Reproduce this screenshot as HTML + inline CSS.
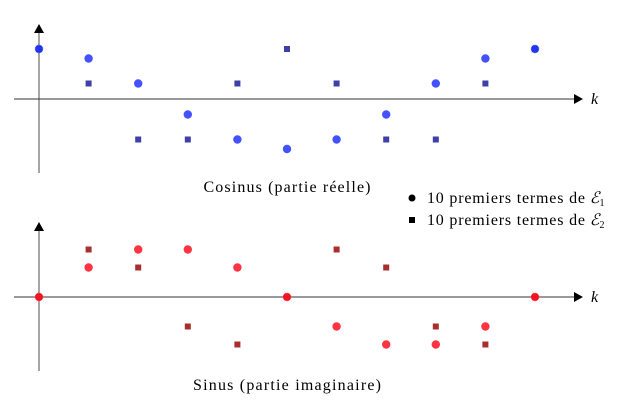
<!DOCTYPE html>
<html><head><meta charset="utf-8"><style>
html,body{margin:0;padding:0;background:#fff;}
svg{display:block;font-family:"Liberation Serif",serif;}
</style></head><body>
<svg id="c" width="634" height="402" viewBox="0 0 634 402">
<g id="axes"></g><g id="marks"></g>
<text x="287" y="192" text-anchor="middle" font-size="16" textLength="167">Cosinus (partie réelle)</text>
<text x="287" y="390" text-anchor="middle" font-size="16" textLength="188">Sinus (partie imaginaire)</text>
<g>
<circle cx="412" cy="198" r="3.5" fill="#000"/>
<text x="427" y="203" font-size="16"><tspan textLength="158">10 premiers termes de</tspan> <tspan font-style="italic">ℰ</tspan><tspan font-size="10" dy="3">1</tspan></text>
<rect x="409" y="217" width="6" height="6" fill="#000"/>
<text x="427" y="225" font-size="16"><tspan textLength="158">10 premiers termes de</tspan> <tspan font-style="italic">ℰ</tspan><tspan font-size="10" dy="3">2</tspan></text>
</g>
</svg>
<script>
const kValues=[0,1,2,3,4,5,6,7,8,9,10];
const cosE1=[1,0.81,0.31,-0.31,-0.81,-1,-0.81,-0.31,0.31,0.81,1];
const cosE2=[1,0.31,-0.81,-0.81,0.31,1,0.31,-0.81,-0.81,0.31,1];
const sinE1=[0,0.59,0.95,0.95,0.59,0,-0.59,-0.95,-0.95,-0.59,0];
const sinE2=[0,0.95,0.59,-0.59,-0.95,0,0.95,0.59,-0.59,-0.95,0];
const NS='http://www.w3.org/2000/svg';
const axes=document.getElementById('axes'),marks=document.getElementById('marks');
const xS=k=>39+k*49.6;
function mk(tag,attrs,parent){const e=document.createElementNS(NS,tag);for(const a in attrs)e.setAttribute(a,attrs[a]);parent.appendChild(e);return e;}
function panel(y0,yTop,yBot,name,c1,c2,d1,d2){
  const yS=v=>y0-v*50;
  let l=mk('line',{x1:39,y1:yBot,x2:39,y2:yTop+8,stroke:'#777','stroke-width':1.3},axes);
  
  
  let a=mk('polygon',{points:`34,${yTop+9} 44,${yTop+9} 39,${yTop}`,fill:'#000'},axes);
  
  
  let h=mk('line',{x1:14,y1:y0,x2:575,y2:y0,stroke:'#333','stroke-width':1},axes);
  
  
  let ha=mk('polygon',{points:`574,${y0-5} 574,${y0+5} 583,${y0}`,fill:'#000'},axes);
  
  
  let t=mk('text',{x:591,y:y0+5,'font-size':16,'font-style':'italic'},axes);t.textContent='k';
  
  
  kValues.forEach((k,i)=>{
    let s=mk('rect',{x:xS(k)-3,y:yS(d2[i])-3,width:6,height:6,fill:c2,opacity:0.9},marks);
    
    
  });
  kValues.forEach((k,i)=>{
    let c=mk('circle',{cx:xS(k),cy:yS(d1[i]),r:4.2,fill:c1,opacity:0.85},marks);
    
    
  });
}
panel(99,24,173,'cos','#2233ff','#2a2aa0',cosE1,cosE2);
panel(297,222,371,'sin','#ff1122','#a01818',sinE1,sinE2);
</script>
</body></html>
